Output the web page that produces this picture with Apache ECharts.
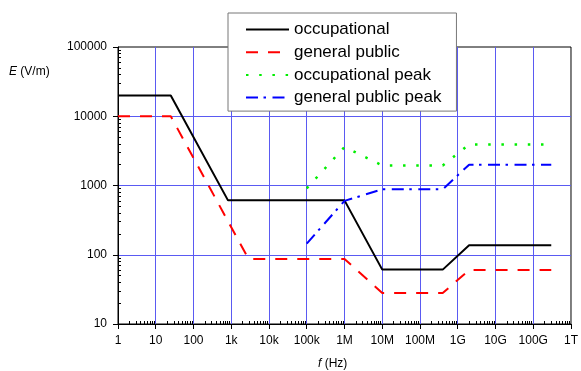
<!DOCTYPE html>
<html><head><meta charset="utf-8">
<script src="https://cdn.jsdelivr.net/npm/echarts@6/dist/echarts.min.js"></script>
<style>html,body{margin:0;padding:0;background:#fff}#c{width:581px;height:371px}</style>
</head><body><div id="c"></div>
<script>
// ---- data ----
const xTickLabels = ['1','10','100','1k','10k','100k','1M','10M','100M','1G','10G','100G','1T'];
const yTickLabels = ['10','100','1000','10000','100000'];
const seriesNames = ['occupational','general public','occupational peak','general public peak'];
const occFreq = [1, 25, 820, 1e6, 1e7, 4e8, 2e9, 3e11];
const occE    = [20000, 20000, 610, 610, 61, 61, 137, 137];
const pubFreq = [1, 25, 2870, 1e6, 1e7, 4e8, 2e9, 3e11];
const pubE    = [10000, 10000, 87, 87, 28, 28, 60, 60];
const occPeakFreq = [1e5, 1e6, 1e7, 4e8, 2e9, 3e11];
const occPeakE    = [910, 3600, 1950, 1950, 3900, 3900];
const pubPeakFreq = [1e5, 1e6, 1e7, 4e8, 2e9, 3e11];
const pubPeakE    = [145, 600, 880, 880, 2000, 2000];

const FONT = 'Liberation Sans, Arial, sans-serif';
const gridColor = '#5a5af2';
function pairs(xs, ys){ return xs.map((x,i)=>[x, ys[i]]); }
function minorTicks(lo, hi){ const out=[]; for(let d=lo; d<hi; d++) for(let k=2;k<=9;k++) out.push(k*Math.pow(10,d)); return out; }
function decades(lo, hi){ const out=[]; for(let d=lo; d<=hi; d++) out.push(Math.pow(10,d)); return out; }

const chart = echarts.init(document.getElementById('c'), null, {renderer:'canvas'});
const lbl = {fontSize:12, color:'#000', fontFamily:FONT, margin:11};
chart.setOption({
  animation:false,
  backgroundColor:'#fff',
  grid:{left:118, top:47, width:457, height:277, show:true, borderColor:'#000', borderWidth:1, backgroundColor:'transparent'},
  legend:{
    orient:'vertical', left:228, top:13, padding:[8,15,5,17],
    itemWidth:43, itemHeight:14, itemGap:5.7,
    backgroundColor:'#fff', borderColor:'#777', borderWidth:1,
    textStyle:{fontSize:17, color:'#000', fontFamily:FONT},
    itemStyle:{opacity:0},
    data:seriesNames
  },
  xAxis:[{
    type:'log', logBase:10, min:1, max:1e12, interval:1, splitNumber:12,
    axisLine:{show:true, lineStyle:{color:'#000', width:1}},
    axisTick:{show:true, length:5, customValues:decades(0,12), lineStyle:{color:'#000'}},
    axisLabel:Object.assign({}, lbl, {customValues:decades(0,12), formatter:v=>xTickLabels[Math.round(Math.log10(v))]}),
    splitLine:{show:true, showMinLine:false, showMaxLine:false, lineStyle:{color:gridColor, width:1}}
  },{
    type:'log', logBase:10, min:1, max:1e12, position:'bottom',
    axisLine:{show:false}, axisLabel:{show:false}, splitLine:{show:false},
    axisTick:{show:true, inside:true, length:3, customValues:minorTicks(0,12), lineStyle:{color:'#000'}}
  }],
  yAxis:[{
    type:'log', logBase:10, min:10, max:100000, interval:1, splitNumber:4,
    axisLine:{show:true, lineStyle:{color:'#000', width:1}},
    axisTick:{show:true, length:5, lineStyle:{color:'#000'}},
    axisLabel:Object.assign({}, lbl, {formatter:v=>yTickLabels[Math.round(Math.log10(v))-1]}),
    splitLine:{show:true, showMinLine:false, showMaxLine:false, lineStyle:{color:gridColor, width:1}}
  },{
    type:'log', logBase:10, min:10, max:100000, position:'left',
    axisLine:{show:false}, axisLabel:{show:false}, splitLine:{show:false},
    axisTick:{show:true, inside:true, length:3, customValues:minorTicks(1,5), lineStyle:{color:'#000'}}
  }],
  graphic:[
    {type:'text', left:9, top:66, style:{text:'{i|E} (V/m)', font:'12px '+FONT, fill:'#000',
      rich:{i:{fontStyle:'italic', fontSize:12, fontFamily:FONT}}}},
    {type:'text', left:318, top:358, style:{text:'{i|f} (Hz)', font:'12px '+FONT, fill:'#000',
      rich:{i:{fontStyle:'italic', fontSize:12, fontFamily:FONT}}}}
  ],
  series:[
    {name:seriesNames[0], type:'line', symbol:'none', data:pairs(occFreq, occE),
     itemStyle:{color:'#000'}, lineStyle:{color:'#000', width:2, type:'solid'}},
    {name:seriesNames[1], type:'line', symbol:'none', data:pairs(pubFreq, pubE),
     itemStyle:{color:'#ff0000'}, lineStyle:{color:'#ff0000', width:2, type:[12,10]}},
    {name:seriesNames[2], type:'line', symbol:'none', data:pairs(occPeakFreq, occPeakE),
     itemStyle:{color:'#00ee00'}, lineStyle:{color:'#00ee00', width:2.5, type:[2.5,10.7]}},
    {name:seriesNames[3], type:'line', symbol:'none', data:pairs(pubPeakFreq, pubPeakE),
     itemStyle:{color:'#0000ff'}, lineStyle:{color:'#0000ff', width:2, type:[12,5.5,2.5,6.5]}}
  ]
});
</script></body></html>
